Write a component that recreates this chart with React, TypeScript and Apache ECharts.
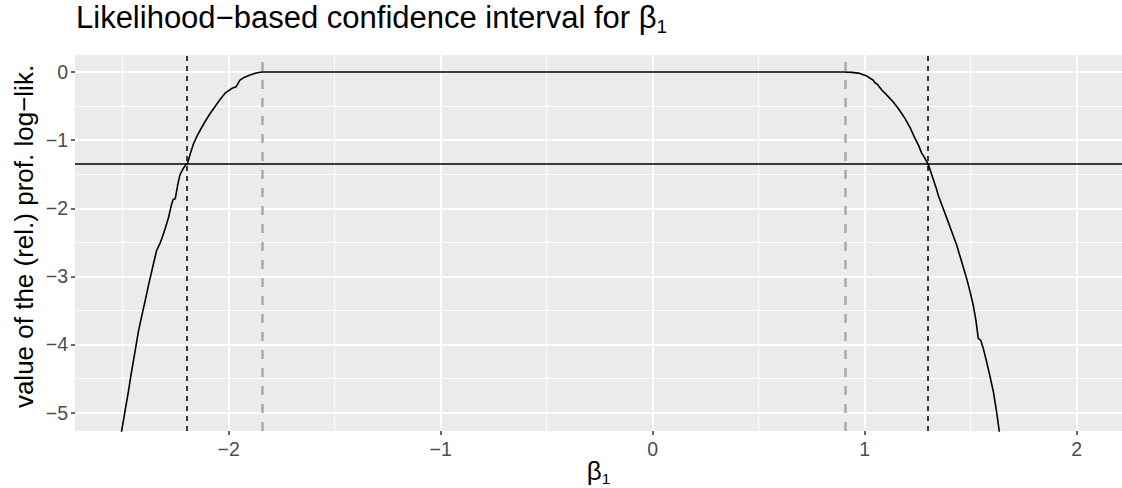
import React, { useEffect, useRef } from "react";
import * as echarts from "echarts";

// profile log-likelihood curve
const beta1 = [
  -2.52, -2.505, -2.488, -2.473, -2.462, -2.45, -2.426, -2.41, -2.395, -2.376, -2.356, -2.34, -2.322, -2.316,
  -2.3, -2.285, -2.27, -2.262, -2.252, -2.24, -2.23, -2.215, -2.201, -2.195, -2.183, -2.168, -2.151, -2.132,
  -2.112, -2.09, -2.065, -2.04, -2.017, -1.99, -1.975, -1.968, -1.96, -1.947, -1.925, -1.899, -1.875, -1.852,
  -1.84, -1.72, -1.3, 0, 0.9, 0.94, 0.978, 1.01, 1.041, 1.046, 1.06, 1.08, 1.108, 1.135, 1.162, 1.19, 1.215,
  1.237, 1.255, 1.269, 1.285, 1.3, 1.322, 1.34, 1.347, 1.37, 1.394, 1.414, 1.434, 1.458, 1.481, 1.497, 1.512,
  1.525, 1.536, 1.548, 1.559, 1.575, 1.59, 1.607, 1.622, 1.635, 1.645,
];
const profLogLik = [
  -5.54, -5.27, -4.96, -4.69, -4.47, -4.25, -3.81, -3.58, -3.37, -3.1, -2.83, -2.62, -2.5, -2.45,
  -2.3, -2.15, -1.95, -1.87, -1.86, -1.65, -1.51, -1.42, -1.355, -1.35, -1.22, -1.07, -0.95, -0.84,
  -0.73, -0.62, -0.51, -0.4, -0.31, -0.25, -0.225, -0.225, -0.19, -0.12, -0.075, -0.044, -0.018, -0.003,
  0, 0, 0, 0, 0, -0.005, -0.02, -0.06, -0.12, -0.15, -0.18, -0.26, -0.35, -0.44, -0.55, -0.68, -0.82,
  -0.97, -1.08, -1.19, -1.27, -1.355, -1.56, -1.73, -1.81, -2.0, -2.2, -2.37, -2.54, -2.79, -3.03, -3.22, -3.42,
  -3.65, -3.91, -3.94, -4.05, -4.25, -4.45, -4.69, -4.98, -5.27, -5.5,
];

const xTicks = [-2, -1, 0, 1, 2];
const xMinor = [-2.5, -1.5, -0.5, 0.5, 1.5];
const yTicks = [-5, -4, -3, -2, -1, 0];
const yMinor = [-4.5, -3.5, -2.5, -1.5, -0.5];
const xRange = [-2.725, 2.214];
const yRange = [-5.27, 0.25];
const threshold = -1.353;
const ciBounds = [-2.201, 1.3];
const flatBounds = [-1.842, 0.91];

const FONT = "'Liberation Sans', Arial, Helvetica, sans-serif";
const fmt = (v: number) => (v < 0 ? "\u2212" + Math.abs(v) : String(v));

export default function App() {
  const ref = useRef<HTMLDivElement>(null);
  useEffect(() => {
    if (!ref.current) return;
    const chart = echarts.init(ref.current, undefined, { renderer: "svg" });
    const major = { color: "#FFFFFF", width: 2, type: "solid" };
    const minor = { color: "#FFFFFF", width: 1, type: "solid" };
    chart.setOption({
      animation: false,
      grid: {
        left: 75,
        right: 0,
        top: 55,
        bottom: 57,
        show: true,
        backgroundColor: "#EBEBEB",
        borderWidth: 0,
      },
      xAxis: {
        type: "value",
        min: xRange[0],
        max: xRange[1],
        axisLine: { show: false, onZero: false },
        splitLine: { show: false },
        axisTick: { show: true, length: 4, lineStyle: { color: "#333333", width: 1.5 }, customValues: xTicks },
        axisLabel: {
          customValues: xTicks,
          formatter: fmt,
          color: "#4D4D4D",
          fontSize: 19.5,
          fontFamily: FONT,
          margin: 8,
        },
      },
      yAxis: {
        type: "value",
        min: yRange[0],
        max: yRange[1],
        axisLine: { show: false, onZero: false },
        splitLine: { show: false },
        axisTick: { show: true, length: 4, lineStyle: { color: "#333333", width: 1.5 }, customValues: yTicks },
        axisLabel: {
          customValues: yTicks,
          formatter: fmt,
          color: "#4D4D4D",
          fontSize: 19.5,
          fontFamily: FONT,
          margin: 7,
        },
      },
      graphic: [
        {
          type: "text",
          x: 76,
          y: 4.8,
          style: {
            text: "{m|Likelihood\u2212based confidence interval for \u03B2}{s|1}",
            align: "left",
            verticalAlign: "top",
            rich: {
              m: { fontSize: 31, lineHeight: 31, fontFamily: FONT, fill: "#000", verticalAlign: "bottom", padding: [0, 0, 3.2, 0] },
              s: { fontSize: 19, lineHeight: 19, fontFamily: FONT, fill: "#000", verticalAlign: "bottom" },
            },
          },
        },
        {
          type: "text",
          x: 598.5,
          y: 460,
          style: {
            text: "{m|\u03B2}{s|1}",
            align: "center",
            verticalAlign: "top",
            rich: {
              m: { fontSize: 26, lineHeight: 26, fontFamily: FONT, fill: "#000", verticalAlign: "bottom", padding: [0, 0, 2.4, 0] },
              s: { fontSize: 15.5, lineHeight: 15.5, fontFamily: FONT, fill: "#000", verticalAlign: "bottom" },
            },
          },
        },
        {
          type: "text",
          x: 24.3,
          y: 236.5,
          rotation: Math.PI / 2,
          style: {
            text: "value of the (rel.) prof. log\u2212lik.",
            fontSize: 26,
            fontFamily: FONT,
            fill: "#000",
            align: "center",
            verticalAlign: "middle",
          },
        },
      ],
      series: [
        {
          type: "line",
          data: [],
          z: 1,
          silent: true,
          markLine: {
            silent: true,
            symbol: ["none", "none"],
            label: { show: false },
            emphasis: { disabled: true },
            data: [
              ...xMinor.map((v) => ({ xAxis: v, lineStyle: minor })),
              ...yMinor.map((v) => ({ yAxis: v, lineStyle: minor })),
              ...xTicks.map((v) => ({ xAxis: v, lineStyle: major })),
              ...yTicks.map((v) => ({ yAxis: v, lineStyle: major })),
            ],
          },
        },
        {
          type: "line",
          data: beta1.map((x, i) => [x, profLogLik[i]]),
          showSymbol: false,
          symbol: "none",
          clip: true,
          z: 5,
          lineStyle: { color: "#000000", width: 1.6 },
        },
        {
          type: "line",
          data: [],
          z: 6,
          silent: true,
          markLine: {
            silent: true,
            symbol: ["none", "none"],
            label: { show: false },
            emphasis: { disabled: true },
            data: [
              { yAxis: threshold, lineStyle: { color: "#000000", width: 1.5, type: "solid" } },
              ...ciBounds.map((v) => ({ xAxis: v, lineStyle: { color: "#000000", width: 1.5, type: [5, 5] } })),
              ...flatBounds.map((v) => ({ xAxis: v, lineStyle: { color: "#AAAAAA", width: 2.5, type: [9, 9] } })),
            ],
          },
        },
      ],
    });
    return () => chart.dispose();
  }, []);
  return (
    <div
      ref={ref}
      style={{ position: "absolute", left: 0, top: 0, width: 1122, height: 488, background: "#FFFFFF" }}
    />
  );
}
